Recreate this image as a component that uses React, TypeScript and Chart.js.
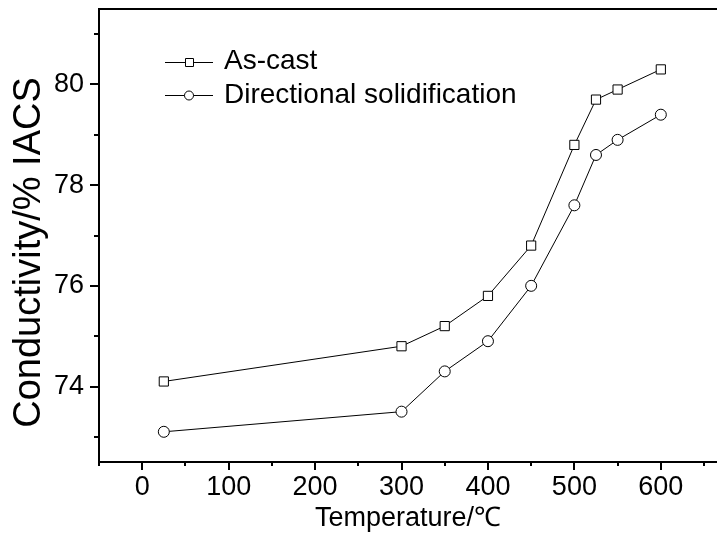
import { useEffect, useRef } from 'react';
import { Chart, registerables } from 'chart.js';

Chart.register(...registerables);

const temperatures = [25, 300, 350, 400, 450, 500, 525, 550, 600];
const asCast = [74.1, 74.8, 75.2, 75.8, 76.8, 78.8, 79.7, 79.9, 80.3];
const directional = [73.1, 73.5, 74.3, 74.9, 76.0, 77.6, 78.6, 78.9, 79.4];
const seriesNames = ['As-cast', 'Directional solidification'];
const xTickValues = [-50, 0, 50, 100, 150, 200, 250, 300, 350, 400, 450, 500, 550, 600, 650];
const xLabeled = [0, 100, 200, 300, 400, 500, 600];
const yTickValues = [73, 74, 75, 76, 77, 78, 79, 80, 81];
const yLabeled = [74, 76, 78, 80];
const xTitle = 'Temperature/℃';
const yTitle = 'Conductivity/% IACS';

const FONT = '"Liberation Sans", Arial, sans-serif';

const framePlugin = {
  id: 'frame',
  afterDraw(chart: any) {
    const { ctx, chartArea: a, scales } = chart;
    ctx.save();
    ctx.strokeStyle = '#000';
    ctx.fillStyle = '#000';
    // top border
    ctx.lineWidth = 2;
    ctx.beginPath();
    ctx.moveTo(a.left - 1, a.top);
    ctx.lineTo(a.right, a.top);
    ctx.stroke();
    // x ticks
    scales.x.ticks.forEach((t: any) => {
      const px = Math.round(scales.x.getPixelForValue(t.value));
      const major = xLabeled.includes(t.value);
      ctx.lineWidth = 2;
      ctx.beginPath();
      ctx.moveTo(px, a.bottom);
      ctx.lineTo(px, a.bottom + (major ? 8 : 4));
      ctx.stroke();
    });
    // y ticks
    scales.y.ticks.forEach((t: any) => {
      const py = Math.round(scales.y.getPixelForValue(t.value));
      const major = yLabeled.includes(t.value);
      ctx.lineWidth = 2;
      ctx.beginPath();
      ctx.moveTo(a.left, py);
      ctx.lineTo(a.left - (major ? 9 : 5), py);
      ctx.stroke();
    });
    // legend
    const ds = chart.data.datasets;
    const rows = [
      { ly: a.top + 53, ty: a.top + 60 },
      { ly: a.top + 86, ty: a.top + 94 },
    ];
    rows.forEach((r, i) => {
      const d = ds[i];
      const x0 = a.left + 66;
      const x1 = a.left + 114;
      const xm = a.left + 90;
      ctx.lineWidth = 1;
      ctx.strokeStyle = '#000';
      ctx.beginPath();
      ctx.moveTo(x0, r.ly + 0.5);
      ctx.lineTo(x1, r.ly + 0.5);
      ctx.stroke();
      ctx.fillStyle = '#fff';
      ctx.beginPath();
      if (d.pointStyle === 'rect') {
        ctx.rect(xm - 3.5, r.ly - 3.5, 8, 8);
      } else {
        ctx.arc(xm, r.ly + 0.5, 4.5, 0, Math.PI * 2);
      }
      ctx.fill();
      ctx.stroke();
      ctx.fillStyle = '#000';
      ctx.font = `28px ${FONT}`;
      ctx.textAlign = 'left';
      ctx.textBaseline = 'alphabetic';
      ctx.fillText(d.label, a.left + 125, r.ty);
    });
    // y title
    ctx.save();
    ctx.translate(a.left - 59, (a.top + a.bottom) / 2 + 17);
    ctx.rotate(-Math.PI / 2);
    ctx.font = `38px ${FONT}`;
    ctx.textAlign = 'center';
    ctx.textBaseline = 'alphabetic';
    ctx.fillStyle = '#000';
    ctx.fillText(yTitle, 0, 0);
    ctx.restore();
    ctx.restore();
  },
};

export default function App() {
  const ref = useRef<HTMLCanvasElement | null>(null);

  useEffect(() => {
    if (!ref.current) return;
    const chart = new Chart(ref.current, {
      type: 'line',
      data: {
        datasets: [
          {
            label: seriesNames[0],
            data: temperatures.map((t, i) => ({ x: t, y: asCast[i] })),
            borderColor: '#000',
            borderWidth: 1,
            pointStyle: 'rect',
            pointRadius: 6.5,
            pointBorderWidth: 1,
            pointBorderColor: '#000',
            pointBackgroundColor: '#fff',
            tension: 0,
            clip: false as any,
          },
          {
            label: seriesNames[1],
            data: temperatures.map((t, i) => ({ x: t, y: directional[i] })),
            borderColor: '#000',
            borderWidth: 1,
            pointStyle: 'circle',
            pointRadius: 5.5,
            pointBorderWidth: 1,
            pointBorderColor: '#000',
            pointBackgroundColor: '#fff',
            tension: 0,
            clip: false as any,
          },
        ],
      },
      options: {
        animation: false,
        responsive: false,
        devicePixelRatio: 1,
        layout: { autoPadding: false, padding: { top: 9, left: 0, right: 0, bottom: 0 } },
        plugins: {
          legend: { display: false },
          tooltip: { enabled: false },
        },
        scales: {
          x: {
            type: 'linear',
            min: -50,
            max: 665,
            grid: { display: false, drawTicks: false },
            border: { display: true, color: '#000', width: 2 },
            afterBuildTicks: (s: any) => {
              s.ticks = xTickValues.map((v) => ({ value: v }));
            },
            ticks: {
              autoSkip: false,
              maxRotation: 0,
              padding: 9,
              color: '#000',
              font: { family: FONT, size: 27 },
              callback: (v: any) => (xLabeled.includes(Number(v)) ? String(v) : ''),
            },
            title: {
              display: true,
              text: xTitle,
              color: '#000',
              font: { family: FONT, size: 27 },
              padding: { top: 0, bottom: 8 },
            },
            afterFit: (s: any) => {
              s.height = 81;
              s.paddingLeft = 0;
              s.paddingRight = 0;
            },
          },
          y: {
            type: 'linear',
            min: 72.5,
            max: 81.5,
            grid: { display: false, drawTicks: false },
            border: { display: true, color: '#000', width: 2 },
            afterBuildTicks: (s: any) => {
              s.ticks = yTickValues.map((v) => ({ value: v }));
            },
            ticks: {
              autoSkip: false,
              padding: 15,
              color: '#000',
              font: { family: FONT, size: 27 },
              callback: (v: any) => (yLabeled.includes(Number(v)) ? String(v) : ''),
            },
            afterFit: (s: any) => {
              s.width = 99;
              s.paddingTop = 0;
              s.paddingBottom = 0;
            },
          },
        },
      },
      plugins: [framePlugin],
    } as any);
    return () => chart.destroy();
  }, []);

  return (
    <div style={{ position: 'fixed', left: 0, top: 0, width: 717, height: 543, background: '#fff' }}>
      <canvas ref={ref} width={717} height={543} style={{ display: 'block' }} />
    </div>
  );
}
